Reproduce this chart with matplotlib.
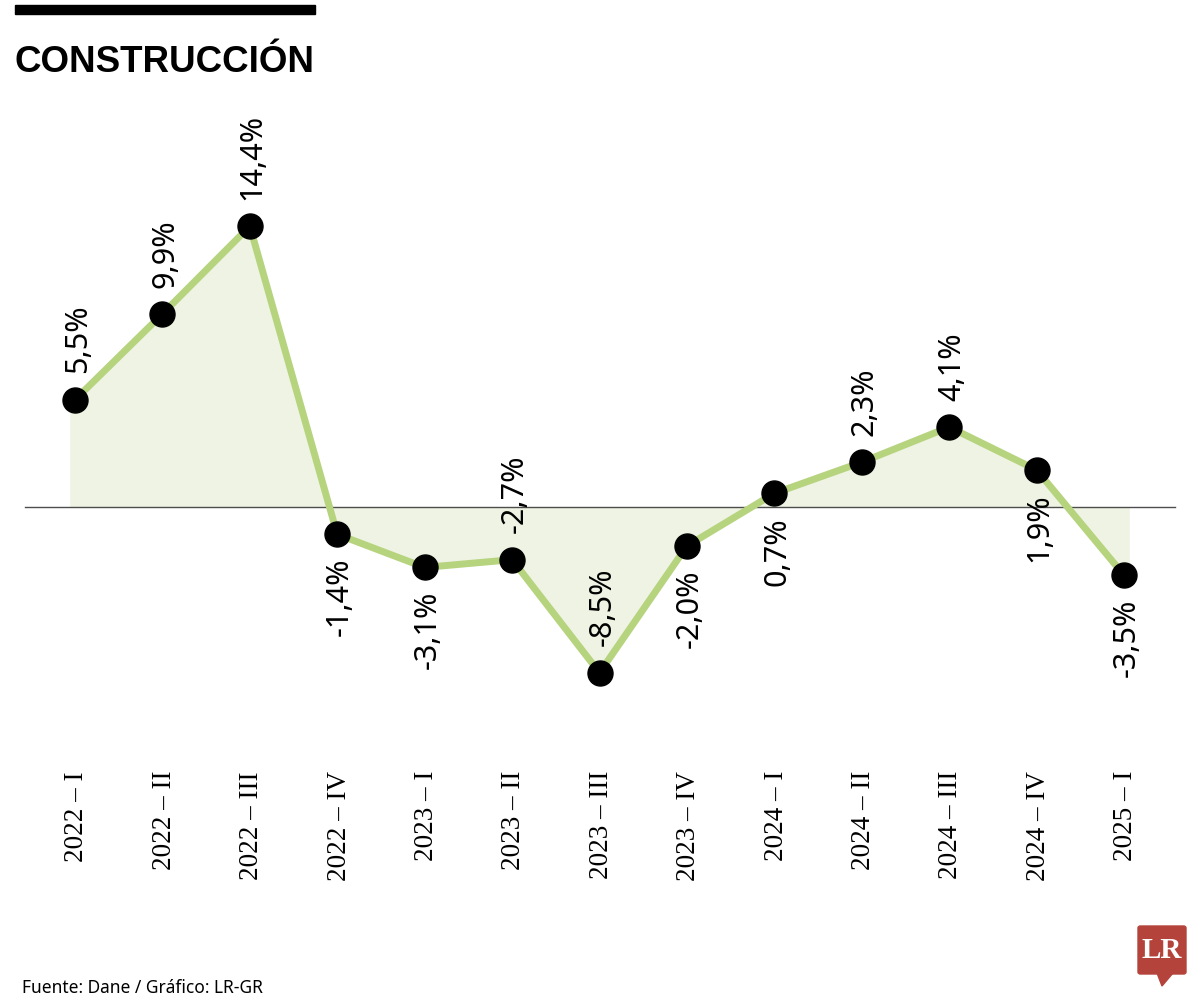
import matplotlib
matplotlib.use("Agg")
import matplotlib.pyplot as plt
import matplotlib.transforms as mtransforms
from matplotlib.patches import FancyBboxPatch, Polygon, Rectangle
import numpy as np

periods = ["2022 – I", "2022 – II", "2022 – III", "2022 – IV",
           "2023 – I", "2023 – II", "2023 – III", "2023 – IV",
           "2024 – I", "2024 – II", "2024 – III", "2024 – IV", "2025 – I"]
growth = [5.5, 9.9, 14.4, -1.4, -3.1, -2.7, -8.5, -2.0, 0.7, 2.3, 4.1, 1.9, -3.5]
value_labels = ["5,5%", "9,9%", "14,4%", "-1,4%", "-3,1%", "-2,7%", "-8,5%",
                "-2,0%", "0,7%", "2,3%", "4,1%", "1,9%", "-3,5%"]
label_side = ["up", "up", "up", "down", "down", "up", "up",
              "down", "down", "up", "up", "down", "down"]

title = "CONSTRUCCIÓN"
source = "Fuente: Dane / Gráfico: LR-GR"

W, H = 1200, 1001
plt.rcParams["font.family"] = ["Noto Sans", "DejaVu Sans"]
SERIF = ["Liberation Serif", "DejaVu Serif"]
BOLD = ["Liberation Sans", "DejaVu Sans"]

fig = plt.figure(figsize=(W / 100, H / 100), dpi=100)
ax = fig.add_axes([0, 0, 1, 1])
ax.set_axis_off()

# pixel mapping: index 0 -> x=75px, step 87.42px ; value 0 -> y=507px, 19.5 px/unit
x0, dx = 75.0, 87.42
y0, dy = 507.0, 19.5
ax.set_xlim(-x0 / dx, (W - x0) / dx)
ax.set_ylim((y0 - H) / dy, y0 / dy)

x = np.arange(len(growth))
g = np.array(growth)

# fill area (slightly extended beyond first/last points)
xf = np.concatenate([[x[0] - 0.06], x, [x[-1] + 0.06]])
yf = np.concatenate([[g[0]], g, [g[-1]]])
ax.fill_between(xf, yf, 0, color="#eef3e3", linewidth=0, zorder=1)

# zero line
ax.plot([(25 - x0) / dx, (1175 - x0) / dx], [0, 0], color="#4d4d4d", lw=1.0, zorder=2)

ax.plot(x, g, color="#b6d37e", lw=5, solid_joinstyle="miter", zorder=3)
ax.plot(x, g, "o", color="black", markersize=18, zorder=4)

for xi, v, lab, side in zip(x, g, value_labels, label_side):
    if side == "up":
        ax.annotate(lab, (xi, v), xytext=(2, 19), textcoords="offset points",
                    rotation=90, ha="center", va="bottom", fontsize=22,
                    fontstretch="condensed", zorder=5)
    else:
        ax.annotate(lab, (xi, v), xytext=(2, -17), textcoords="offset points",
                    rotation=90, ha="center", va="top", fontsize=22,
                    fontstretch="condensed", zorder=5)

# category labels
trans = mtransforms.blended_transform_factory(ax.transData, fig.transFigure)
for xi, p in zip(x, periods):
    ax.text(xi + 0.02, 1 - 771 / H, p, rotation=90, ha="center", va="top",
            fontsize=19.5, family=SERIF, transform=trans)

# header bar and title
fig.patches.append(Rectangle((15 / W, 1 - 14 / H), 300 / W, 9 / H,
                             transform=fig.transFigure, color="black"))
fig.text(14 / W, 1 - 72 / H, title, fontsize=26.5, fontweight="bold",
         family=BOLD, ha="left", va="baseline")

# source
fig.text(22 / W, 1 - 993 / H, source, fontsize=12.5, fontstretch="condensed",
         ha="left", va="baseline")

# LR logo
red = "#b4443b"
fig.patches.append(FancyBboxPatch((1138 / W, 1 - 974 / H), 48 / W, 48 / H,
                                  boxstyle="round,pad=0,rounding_size=0.002",
                                  transform=fig.transFigure, color=red))
fig.patches.append(Polygon([(1157 / W, 1 - 973 / H), (1173 / W, 1 - 973 / H),
                            (1162 / W, 1 - 986 / H)], closed=True,
                           transform=fig.transFigure, color=red))
fig.text(1162 / W, 1 - 951 / H, "LR", fontsize=21, fontweight="bold",
         color="white", ha="center", va="center", family=SERIF)

fig.savefig("out.png", dpi=100)
